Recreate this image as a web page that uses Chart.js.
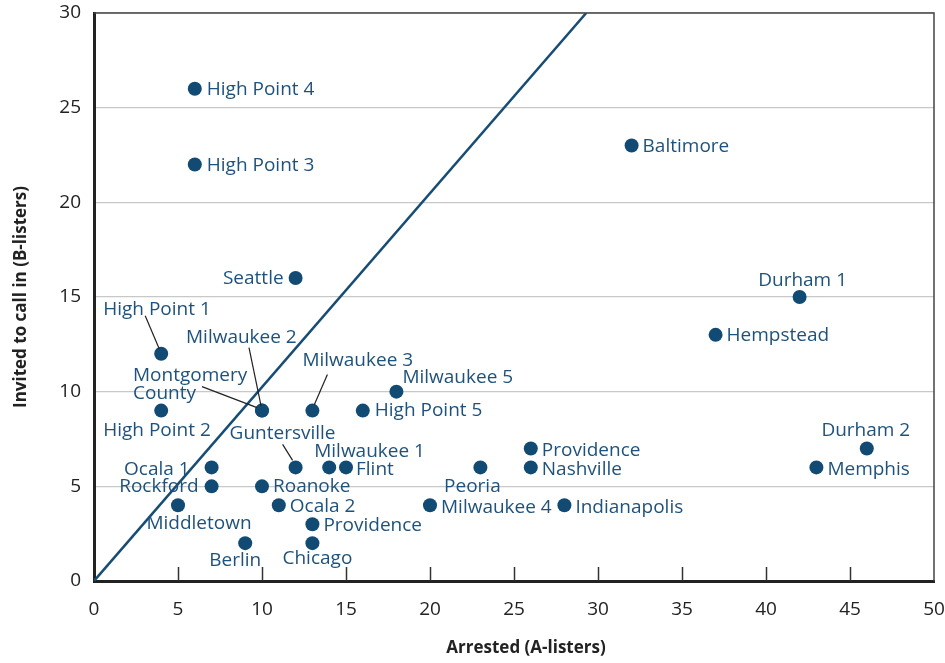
<!DOCTYPE html>
<html>
<head>
<meta charset="utf-8">
<script src="https://cdn.jsdelivr.net/npm/chart.js@4"></script>
<style>
  html, body { margin: 0; padding: 0; background: #fff; }
  canvas { display: block; }
</style>
</head>
<body>
<canvas id="scatterChart" width="945" height="663"></canvas>
<script>
//-- ข้อมูลของแต่ละเมือง --
const siteNames = [
  "High Point 4", "High Point 3", "Baltimore", "Seattle", "Durham 1", "Hempstead",
  "High Point 1", "Milwaukee 5", "Montgomery\nCounty", "Milwaukee 2", "Milwaukee 3",
  "High Point 5", "High Point 2", "Guntersville", "Milwaukee 1", "Flint", "Ocala 1",
  "Rockford", "Roanoke", "Middletown", "Ocala 2", "Providence", "Berlin", "Chicago",
  "Milwaukee 4", "Peoria", "Providence", "Nashville", "Indianapolis", "Durham 2", "Memphis"
];
const arrested = [6, 6, 32, 12, 42, 37, 4, 18, 10, 10, 13, 16, 4, 12, 14, 15, 7, 7, 10, 5, 11, 13, 9, 13, 20, 23, 26, 26, 28, 46, 43];
const invited  = [26, 22, 23, 16, 15, 13, 12, 10, 9, 9, 9, 9, 9, 6, 6, 6, 6, 5, 5, 4, 4, 3, 2, 2, 4, 6, 7, 6, 4, 7, 6];

//-- เส้นทแยงมุม --
const diagX = [0, 29.3];
const diagY = [0, 30];

//-- ชื่อแกน --
const xTitle = 'Arrested (A-listers)';
const yTitle = 'Invited to call in (B-listers)';

//-- ตำแหน่งของข้อความ (ออฟเซ็ตจากจุด หน่วยเป็นพิกเซล) และเส้นชี้ --
const labelStyle = [
  { dx: 12, dy: 1, align: 'left' },
  { dx: 12, dy: 1, align: 'left' },
  { dx: 11, dy: 1, align: 'left' },
  { dx: -12, dy: 1, align: 'right' },
  { dx: 3, dy: -16, align: 'center' },
  { dx: 11, dy: 1, align: 'left' },
  { dx: -58, dy: -44, align: 'left', lead: [-16, -38, -2, -5] },
  { dx: 6, dy: -14, align: 'left' },
  { dx: -129, dy: -35, align: 'left', lead: [-60, -24, -5, -3] },
  { dx: -76, dy: -73, align: 'left', lead: [-13, -63, -1, -5] },
  { dx: -10, dy: -50, align: 'left', lead: [15, -36, 2, -6] },
  { dx: 12, dy: 0, align: 'left' },
  { dx: -58, dy: 20, align: 'left' },
  { dx: -66, dy: -34, align: 'left', lead: [-13, -23, -3, -7] },
  { dx: -15, dy: -16, align: 'left' },
  { dx: 10, dy: 2, align: 'left' },
  { dx: -22, dy: 2, align: 'right' },
  { dx: -13, dy: 0, align: 'right' },
  { dx: 11, dy: 0, align: 'left' },
  { dx: 21, dy: 18, align: 'center' },
  { dx: 11, dy: 1, align: 'left' },
  { dx: 11, dy: 1, align: 'left' },
  { dx: -10, dy: 17, align: 'center' },
  { dx: 5, dy: 15, align: 'center' },
  { dx: 11, dy: 2, align: 'left' },
  { dx: -8, dy: 19, align: 'center' },
  { dx: 11, dy: 2, align: 'left' },
  { dx: 11, dy: 2, align: 'left' },
  { dx: 11, dy: 2, align: 'left' },
  { dx: -1, dy: -18, align: 'center' },
  { dx: 11, dy: 2, align: 'left' }
];

const dotColor = '#114a73';
const textColor = '#1e527c';
const axisColor = '#222';
const fontFamily = '"Open Sans", "Noto Sans", sans-serif';

//-- Plugin วาดชื่อเมือง เส้นชี้ กรอบด้านบน/ขวา ขีดแกน X และชื่อแกน --
const extrasPlugin = {
  id: 'extras',
  afterDatasetsDraw(chart) {
    const ctx = chart.ctx;
    const area = chart.chartArea;
    const xScale = chart.scales.x;
    const meta = chart.getDatasetMeta(1);

    ctx.save();
    //-- กรอบด้านบนและขวา --
    ctx.strokeStyle = '#444';
    ctx.lineWidth = 1.5;
    ctx.beginPath();
    ctx.moveTo(area.left, area.top);
    ctx.lineTo(area.right, area.top);
    ctx.lineTo(area.right, area.bottom);
    ctx.stroke();

    //-- ขีดแกน X ชี้เข้าด้านใน --
    ctx.strokeStyle = '#333';
    ctx.lineWidth = 1.5;
    for (let v = 5; v < 50; v += 5) {
      const px = Math.round(xScale.getPixelForValue(v)) + 0.5;
      ctx.beginPath();
      ctx.moveTo(px, area.bottom);
      ctx.lineTo(px, area.bottom - 14);
      ctx.stroke();
    }

    //-- เส้นชี้ --
    ctx.strokeStyle = '#222';
    ctx.lineWidth = 1.2;
    meta.data.forEach((pt, i) => {
      const s = labelStyle[i];
      if (!s.lead) return;
      ctx.beginPath();
      ctx.moveTo(pt.x + s.lead[0], pt.y + s.lead[1]);
      ctx.lineTo(pt.x + s.lead[2], pt.y + s.lead[3]);
      ctx.stroke();
    });

    //-- ข้อความ --
    ctx.fillStyle = textColor;
    ctx.font = '19px ' + fontFamily;
    ctx.textBaseline = 'middle';
    meta.data.forEach((pt, i) => {
      const s = labelStyle[i];
      ctx.textAlign = s.align;
      const lines = siteNames[i].split('\n');
      lines.forEach((line, j) => {
        ctx.fillText(line, pt.x + s.dx, pt.y + s.dy + j * 18);
      });
    });

    //-- ชื่อแกน --
    ctx.fillStyle = axisColor;
    ctx.font = 'bold 17px ' + fontFamily;
    ctx.textAlign = 'center';
    ctx.fillText(xTitle, (area.left + area.right) / 2 + 12, 648);
    ctx.translate(21, (area.top + area.bottom) / 2);
    ctx.rotate(-Math.PI / 2);
    ctx.fillText(yTitle, 0, 0);
    ctx.restore();
  }
};

const points = arrested.map((x, i) => ({ x, y: invited[i] }));
const diagonal = diagX.map((x, i) => ({ x, y: diagY[i] }));

new Chart(document.getElementById('scatterChart').getContext('2d'), {
  type: 'scatter',
  data: {
    datasets: [
      {
        data: diagonal,
        showLine: true,
        borderColor: '#174d75',
        borderWidth: 2.5,
        pointRadius: 0,
        fill: false
      },
      {
        data: points,
        pointRadius: 7,
        pointBackgroundColor: dotColor,
        pointBorderWidth: 0,
        borderWidth: 0
      }
    ]
  },
  options: {
    responsive: false,
    devicePixelRatio: 1,
    animation: false,
    layout: { padding: { top: 13, right: 11, left: 0, bottom: 0 } },
    plugins: {
      legend: { display: false },
      tooltip: { enabled: false }
    },
    scales: {
      x: {
        type: 'linear',
        min: 0,
        max: 50,
        ticks: {
          stepSize: 5,
          color: axisColor,
          font: { family: fontFamily, size: 19 },
          padding: 9
        },
        grid: { display: false },
        border: { display: true, color: axisColor, width: 3 },
        afterFit(scale) {
          scale.height = 82;
          scale.paddingLeft = 0;
          scale.paddingRight = 0;
        }
      },
      y: {
        type: 'linear',
        min: 0,
        max: 30,
        ticks: {
          stepSize: 5,
          color: axisColor,
          font: { family: fontFamily, size: 19 },
          padding: 13
        },
        grid: { color: '#c8c8c8', lineWidth: 1.3, drawTicks: false },
        border: { display: true, color: axisColor, width: 3 },
        afterFit(scale) {
          scale.width = 94;
          scale.paddingTop = 0;
          scale.paddingBottom = 0;
        }
      }
    }
  },
  plugins: [extrasPlugin]
});
</script>
</body>
</html>
